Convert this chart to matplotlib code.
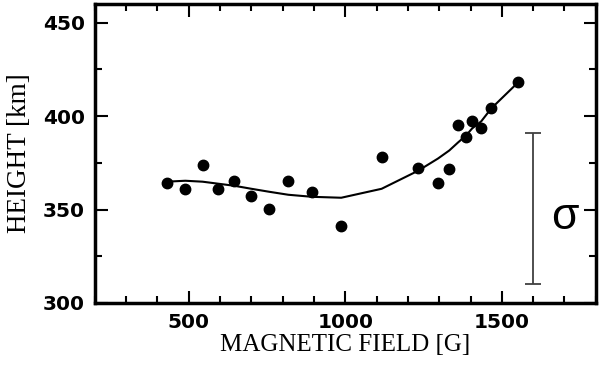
import numpy as np
from matplotlib import pyplot as plt

# magnetic field [G] and height [km] of each point
field = [429, 489, 544, 595, 646, 700, 757, 818, 894, 987,
         1116, 1233, 1296, 1332, 1360, 1386, 1405, 1434, 1466, 1552]
height = [364.4, 361.1, 374.0, 361.1, 365.4, 357.4, 350.4, 365.4, 359.5, 341.2,
          378.3, 372.4, 364.4, 371.9, 395.0, 388.6, 397.2, 393.4, 404.1, 418.1]
# fitted curve evaluated at the same fields
fit = [364.9, 365.4, 364.9, 363.8, 362.7, 361.1, 359.5, 357.9, 356.8, 356.3,
       361.1, 370.8, 377.3, 381.6, 385.9, 389.7, 393.4, 397.2, 404.1, 418.1]

# sigma bar
sigma_x = 1600
sigma_lo = 310
sigma_hi = 391

fig = plt.figure(figsize=(6, 3.73), dpi=100)
ax = fig.add_axes([0.158, 0.188, 0.835, 0.801])

ax.plot(field, fit, color='black', lw=1.5)
ax.plot(field, height, 'o', color='black', ms=7.5)

ax.errorbar([sigma_x], [(sigma_lo + sigma_hi) / 2], yerr=[(sigma_hi - sigma_lo) / 2],
            color='#404040', lw=1.3, capsize=6, capthick=1.3)
ax.text(1702, 345.5, 'σ', fontsize=32, ha='center', va='center',
        family='Liberation Sans')

ax.set_xlim(200, 1800)
ax.set_ylim(300, 460)
ax.set_xticks([500, 1000, 1500])
ax.set_xticks(np.arange(200, 1801, 100), minor=True)
ax.set_yticks([300, 350, 400, 450])
ax.set_yticks(np.arange(300, 461, 25), minor=True)

ax.tick_params(which='both', direction='in', top=True, right=True, width=1.5)
ax.tick_params(which='major', length=9, labelsize=14.5, pad=7)
ax.tick_params(which='minor', length=5)
for lab in ax.get_xticklabels() + ax.get_yticklabels():
    lab.set_fontweight('bold')
for s in ax.spines.values():
    s.set_linewidth(2.5)

ax.set_xlabel('MAGNETIC FIELD [G]', family='Liberation Serif', fontsize=18, labelpad=2)
ax.set_ylabel('HEIGHT [km]', family='Liberation Serif', fontsize=19.5, labelpad=8)

plt.savefig('out.png', dpi=100)
